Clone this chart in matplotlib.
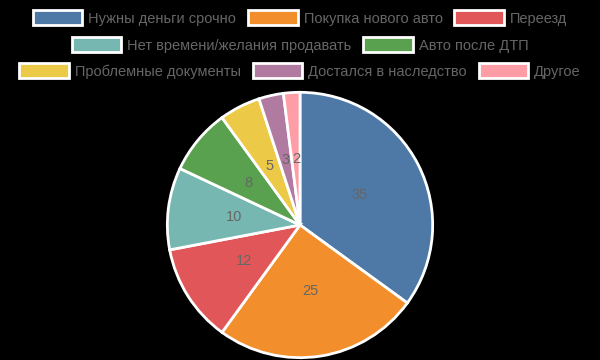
import matplotlib
matplotlib.use("Agg")
import matplotlib.pyplot as plt
from matplotlib.patches import Patch

plt.rcParams['font.family'] = ['Liberation Sans', 'DejaVu Sans']

categories = ["Нужны деньги срочно", "Покупка нового авто", "Переезд",
              "Нет времени/желания продавать", "Авто после ДТП",
              "Проблемные документы", "Достался в наследство", "Другое"]
values = [35, 25, 12, 10, 8, 5, 3, 2]
colors = ["#4e79a7", "#f28e2b", "#e15759", "#76b7b2", "#59a14f",
          "#edc948", "#b07aa1", "#ff9da7"]
legend_rows = [[0, 1, 2], [3, 4], [5, 6, 7]]

fig = plt.figure(figsize=(6, 3.6), dpi=100, facecolor="black")
ax = fig.add_axes([166/600, 1/360, 268/600, 268/360])
ax.set_facecolor("black")
wedges, texts = ax.pie(values, colors=colors, startangle=90, counterclock=False,
                       labels=[str(v) for v in values], labeldistance=0.5,
                       wedgeprops=dict(edgecolor="white", linewidth=2),
                       textprops=dict(color="#666666", fontsize=10.5))
for t in texts:
    t.set_ha("center"); t.set_va("center")
ax.set_aspect("equal")
ax.set_xlim(-1.01, 1.01); ax.set_ylim(-1.01, 1.01)

row_y = [1 - 18/360, 1 - 45/360, 1 - 71/360]
for row, y in zip(legend_rows, row_y):
    handles = [Patch(facecolor=colors[i], edgecolor="white", linewidth=2) for i in row]
    labels = [categories[i] for i in row]
    fig.legend(handles, labels, loc="center", bbox_to_anchor=(0.5, y), ncol=len(row),
               frameon=False, fontsize=10.5, labelcolor="#666666",
               handlelength=3.4, handleheight=1.2, handletextpad=0.42,
               columnspacing=0.8, borderpad=0)

fig.savefig("out.png", dpi=100, facecolor="black")
